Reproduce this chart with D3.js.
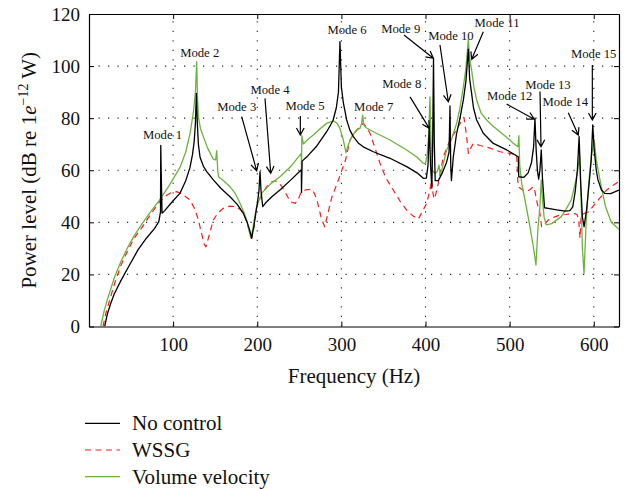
<!DOCTYPE html>
<html><head><meta charset="utf-8">
<script src="https://cdn.jsdelivr.net/npm/d3@7/dist/d3.min.js"></script>
<style>body{margin:0;background:#fff}svg{display:block}</style>
</head><body>
<svg id="chart" width="626" height="489"></svg>
<script>
// ---------- data ----------
const xDomain = [0, 630];
const yDomain = [0, 120];
const xTicks = [100, 200, 300, 400, 500, 600];
const yTicks = [0, 20, 40, 60, 80, 100, 120];
const gridX = [100, 200, 300, 400, 500, 600];
const gridY = [20, 40, 60, 80, 100];

// [frequency Hz, power level dB]
const noControl = [[18.6,0],[22,5],[26,9],[30,12.5],[38.4,17.9],[48,23.5],[58.2,29.4],[68,33.8],[78,37.7],[83,40.3],[85,44],[85.3,69.5],[85.8,60],[86.8,43.5],[90,44.5],[100,48.3],[108,51.1],[115,56],[120,61],[123,66],[125,71],[126.5,78],[127.6,89.5],[128.8,78],[130,70],[132,65],[136,61.5],[140,59.5],[147.8,56.3],[157,53],[167.6,49.8],[176,47],[183.4,43.5],[188,40],[191,37],[193.4,33.9],[196,38.5],[198,43],[200,47],[202,52],[203.3,59.5],[204.5,52],[206.5,46],[210,47.5],[218,50],[227,52.4],[240,56.3],[252.4,60.2],[252.6,51.5],[253.3,63.5],[260,65.5],[270,69],[282.5,74.8],[290,79],[294,84],[296.5,90],[298.3,109.4],[300,92],[302.3,86],[306.3,79.3],[310,75.5],[314.2,72.9],[320,70.5],[326,69],[338,67.1],[357.8,64.6],[377.6,61.4],[390,59],[397.4,56.9],[401,57],[403,62],[404.5,76.7],[406,62],[407.5,53.1],[408.5,70],[409.5,103],[410.5,70],[411.5,56],[415.2,56],[420,59],[425,63],[428,67],[429.1,84.7],[430,62],[430.8,56],[433,65],[437,74.2],[441,80],[445,87],[448,94],[450.9,106.5],[452.5,95],[454.8,89.5],[457,84],[460.8,79.3],[468.7,74.2],[480.6,70.3],[496.5,67.8],[510.3,65.2],[510.8,57.5],[517,57.3],[522,59],[526,63],[528.5,69],[530.1,80],[531.5,68],[533,60],[534.5,56.6],[536,60],[537.6,67.8],[539,57],[541.5,45.6],[546,45.4],[556,44.8],[566,44.3],[571.7,44.5],[575,45.9],[578,52],[580.5,60],[582.6,72.9],[584.5,55],[586.5,42],[588.5,38.3],[591.5,45],[594.5,55],[597,64],[598.8,77.4],[600.5,68],[603,60],[605,56.3],[609,52.5],[613,51.1],[620,51],[630,52.4]];

const wssg = [[16.6,0],[20,5],[24,9.5],[30.5,16.6],[38,23.5],[46.4,29.4],[54,34],[62.2,37.7],[72,42.5],[84,47.9],[92,50.3],[97.8,51.4],[104,51.8],[110,51],[120,48.6],[126,45],[130,40.9],[134,35.5],[137,31.5],[139,30.6],[142,34],[147.8,40.9],[153,43.5],[159.7,45.4],[167,46.2],[175.6,46],[181,44.5],[185.4,42.2],[189,38.5],[193.4,33.9],[196,38],[199.3,46],[205,50.5],[211.2,53.7],[217,55.5],[221.5,56],[225,55.3],[229.4,53.7],[235,50.5],[239.3,47.9],[245.3,47.3],[249,49],[252.4,51.8],[258,52.5],[265.1,52.7],[268,51],[271,48.6],[274,44.5],[276.2,41.5],[280.2,38.3],[284,43.5],[288.8,49.8],[295,55],[300.7,60.1],[305,64],[310.2,71.6],[315,74],[320.1,76.1],[326,78],[330,76.5],[334,74.2],[340,68.5],[345.9,62.7],[353,57],[361.7,52.4],[370,48],[377.6,44.7],[385,42.5],[391.4,41.2],[396,44],[401.4,47.3],[405,52],[407.3,56.3],[408.5,52],[410,49],[412,50.5],[415,54.7],[421.2,65.2],[429.1,71.6],[439,76.7],[443,79],[445.7,80.3],[448.5,74],[451,66.5],[453,68],[456.8,70.3],[465,69.5],[475,68.7],[488.5,67.1],[500,66.5],[508.4,65.9],[509.5,57],[510.3,53.7],[515,52.5],[520.2,51.8],[524,52.5],[528.1,53.7],[530,52],[533,47],[536,43.5],[538,38.3],[542,39.5],[546,40.9],[553,42],[559.8,42.8],[567,43],[575.7,43.5],[580,43],[582,41.5],[583.6,33.9],[585,42.5],[589,43.5],[594,44],[600,46.5],[605.4,48.6],[615.3,52.4],[622,54],[629.6,55.6]];

const volumeVelocity = [[13.9,0],[18,6],[22,10.5],[30.5,19.1],[38,25],[46.4,30.6],[54,35],[62.2,39],[72,43.5],[84,48.6],[95,54],[108,61],[115,67],[120,74],[124,82],[126.5,90],[128,101.7],[129,88],[130,80.6],[132.5,76],[135.9,72.9],[141,68.5],[147.8,64.2],[150.5,64],[151.8,67.5],[153,60],[154,57.5],[160,56],[167.6,53.7],[174,51],[179.5,47.3],[184,44],[187.4,40.9],[190,37],[192.6,33.9],[195,38],[197,42],[199.3,46],[205.3,51.2],[215,54.5],[227,57.5],[240,61.5],[252.3,66.5],[252.6,60],[253,73.3],[254.8,70.1],[260,71.8],[266.7,73.5],[275,76],[282.5,78],[290.4,79],[295,78],[298.3,76.1],[302,72],[305.5,66.8],[308,69.5],[312.2,72.9],[318,75.5],[322.1,76.1],[324,78],[325.3,81.2],[326.5,77.5],[329,76.4],[338,74.8],[357.8,71.6],[377.6,67.8],[390,65],[397.4,62.7],[400,62.5],[402,66],[404,75],[405.3,88.2],[406.5,72],[408,60],[411.3,58.8],[414,59.5],[416,62],[417.5,58],[420,61],[425.2,67.8],[431,72],[437,78],[441,84],[445,92.1],[448,99],[450.9,110.3],[452.5,103],[454.8,98.5],[457.5,92],[460.8,87],[466,82],[472.7,79.3],[480,77],[488.5,74.8],[496,72.8],[504.3,70.4],[508,69.5],[510,69],[511,73.3],[512,62],[514.3,55],[518,49],[524.2,38.3],[528,31],[531.3,23.6],[533.5,37],[536,46],[537.6,56.3],[539,49],[541,42],[543.6,39],[550,39.5],[561.4,42.2],[567,45],[573.3,48.6],[578,55],[581,60],[583.2,65.9],[585,48],[586.5,30],[588.4,20.4],[591,40],[594,55],[597,65],[600.5,71.6],[603,64],[608.9,53.7],[614,46],[620.8,40],[630,37.3]];

const modeLabels = ["Mode 1","Mode 2","Mode 3","Mode 4","Mode 5","Mode 6","Mode 7","Mode 8","Mode 9","Mode 10","Mode 11","Mode 12","Mode 13","Mode 14","Mode 15"];
// label anchor (centre, baseline) in data units
const modeLabelPos = [[87.4,72],[131.6,103.5],[175.6,82.8],[215.2,89.3],[256.8,83.1],[306.7,112.3],[338.4,82.8],[371.7,91.6],[370.5,112.7],[430.3,110],[485,115],[500.1,87],[545.6,91.2],[566.2,84.7],[599.9,103.1]];
// arrow [from, to] in data units (null = no arrow)
const modeArrows = [null,null,[[181.5,80.6],[199.3,59.8]],[[209.2,87.6],[216,58.8]],[[251.2,80.8],[251.2,73.5]],null,null,[[381.6,88.2],[404.5,76.1]],[[374.4,111.9],[409.3,103.0]],[[417.2,108.1],[427.1,86.3]],[[468.7,113.2],[454.9,102.6]],[[496.5,85.4],[529.3,79.6]],[[536.1,90.2],[537.3,69.0]],[[569.7,82.1],[581.6,73.5]],[[598.3,100.4],[598.3,79.3]]];

const legendLabels = ["No control","WSSG","Volume velocity"];

// ---------- drawing ----------
const FONT = "'Liberation Serif','Times New Roman',serif";
const W = 626, H = 489;
const L = 89, R = 619, T = 14, B = 326.5;
const svg = d3.select("#chart").style("font-family", FONT);

const x = d3.scaleLinear().domain(xDomain).range([L, R]);
const y = d3.scaleLinear().domain(yDomain).range([B, T]);

svg.append("defs").append("clipPath").attr("id","plotclip")
  .append("rect").attr("x",L).attr("y",T).attr("width",R-L).attr("height",B-T);

// grid
const grid = svg.append("g").attr("stroke","#222").attr("stroke-width",1.1)
  .attr("stroke-dasharray","1.2,8.3");
grid.selectAll("line.gx").data(gridX).join("line").attr("class","gx")
  .attr("x1",d=>x(d)).attr("x2",d=>x(d)).attr("y1",B).attr("y2",T);
grid.selectAll("line.gy").data(gridY).join("line").attr("class","gy")
  .attr("y1",d=>y(d)).attr("y2",d=>y(d)).attr("x1",L).attr("x2",R);

// series
const line = d3.line().x(d=>x(d[0])).y(d=>y(d[1]));
const series = [
  {data: noControl, color:"#000", dash:null, w:1.3},
  {data: wssg, color:"#ff1a1a", dash:"6,4.5", w:1.2},
  {data: volumeVelocity, color:"#6cb33e", dash:null, w:1.3}
];
const plotG = svg.append("g").attr("clip-path","url(#plotclip)");
// draw order: red, green, black? reference shows black on top mostly near peaks
[series[1], series[2], series[0]].forEach(s=>{
  plotG.append("path").datum(s.data).attr("d",line).attr("fill","none")
    .attr("stroke",s.color).attr("stroke-width",s.w)
    .attr("stroke-dasharray",s.dash).attr("stroke-linejoin","round");
});

// axes
const tickLen = 5;
const axB = svg.append("g").attr("transform",`translate(0,${B})`)
  .call(d3.axisBottom(x).tickValues(xTicks).tickSize(-tickLen).tickPadding(11).tickSizeOuter(0));
const axT = svg.append("g").attr("transform",`translate(0,${T})`)
  .call(d3.axisTop(x).tickValues(xTicks).tickSize(-tickLen).tickFormat("").tickSizeOuter(0));
const axL = svg.append("g").attr("transform",`translate(${L},0)`)
  .call(d3.axisLeft(y).tickValues(yTicks).tickSize(-tickLen).tickPadding(9).tickSizeOuter(0));
const axR = svg.append("g").attr("transform",`translate(${R},0)`)
  .call(d3.axisRight(y).tickValues(yTicks).tickSize(-tickLen).tickFormat("").tickSizeOuter(0));
[axB,axT,axL,axR].forEach(a=>{
  a.select(".domain").attr("stroke","#000").attr("stroke-width",1.2);
  a.selectAll(".tick line").attr("stroke","#000").attr("stroke-width",1);
  a.selectAll("text").attr("font-family",FONT).attr("font-size",19).attr("fill","#111");
});

// axis titles
svg.append("text").attr("x",(L+R)/2).attr("y",383).attr("text-anchor","middle")
  .attr("font-size",21).attr("fill","#111").text("Frequency (Hz)");
const yt = svg.append("text").attr("transform",`translate(36,${(T+B)/2}) rotate(-90)`)
  .attr("text-anchor","middle").attr("font-size",21).attr("fill","#111");
yt.append("tspan").text("Power level (dB re 1");
yt.append("tspan").attr("font-style","italic").text("e");
yt.append("tspan").attr("font-size",14).attr("dy",-8).text("\u221212");
yt.append("tspan").attr("dy",8).text(" W)");

// annotations
const ann = svg.append("g");
modeLabels.forEach((lab,i)=>{
  const p = modeLabelPos[i];
  ann.append("text").attr("x",x(p[0])).attr("y",y(p[1])).attr("text-anchor","middle")
    .attr("font-size",12.7).attr("fill","#111").text(lab);
  const a = modeArrows[i];
  if(a){
    const x1=x(a[0][0]), y1=y(a[0][1]), x2=x(a[1][0]), y2=y(a[1][1]);
    const ang=Math.atan2(y2-y1,x2-x1), hl=8, ha=0.5;
    const p1=[x2-hl*Math.cos(ang-ha), y2-hl*Math.sin(ang-ha)];
    const p2=[x2-hl*Math.cos(ang+ha), y2-hl*Math.sin(ang+ha)];
    ann.append("path")
      .attr("d",`M${x1},${y1}L${x2},${y2}M${p1[0]},${p1[1]}L${x2},${y2}L${p2[0]},${p2[1]}`)
      .attr("fill","none").attr("stroke","#000").attr("stroke-width",1.2);
  }
});

// legend
const legY = [423.3, 450, 476.7];
const leg = svg.append("g");
legendLabels.forEach((lab,i)=>{
  const s = series[i];
  leg.append("line").attr("x1",85).attr("x2",120).attr("y1",legY[i]).attr("y2",legY[i])
    .attr("stroke",s.color).attr("stroke-width",s.w).attr("stroke-dasharray",s.dash);
  leg.append("text").attr("x",132).attr("y",legY[i]+7).attr("font-size",21)
    .attr("fill","#111").text(lab);
});
</script>
</body></html>
